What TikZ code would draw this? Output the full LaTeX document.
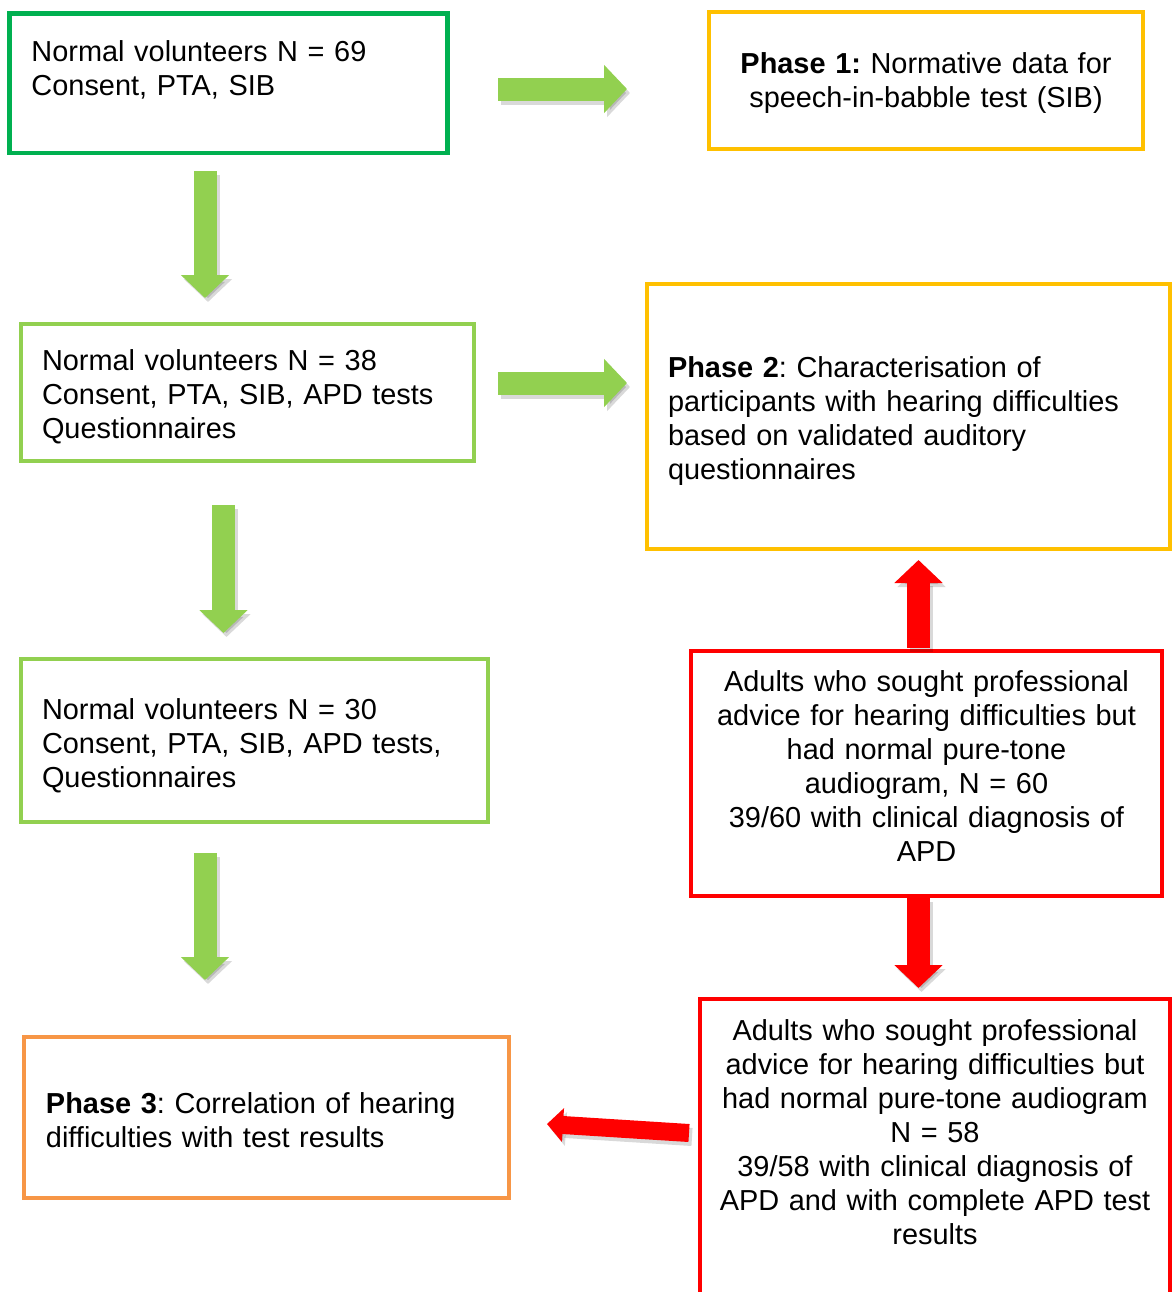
\documentclass[tikz,border=0pt]{standalone}
\usepackage{fontspec}
\setmainfont{Liberation Sans}
\usetikzlibrary{arrows.meta}
\frenchspacing
\definecolor{dkgreen}{HTML}{00B050}
\definecolor{ltgreen}{HTML}{92D050}
\definecolor{phyellow}{HTML}{FFC000}
\definecolor{phorange}{HTML}{F79646}
\definecolor{apdred}{HTML}{FF0000}
\tikzset{
  box/.style={draw, line width=2.2pt, outer sep=0pt, inner ysep=0pt, inner xsep=#1,
    anchor=north west, font=\fontsize{14.45}{17}\selectfont},
  box/.default=11pt,
  garrow/.style={draw=ltgreen, line width=11.5pt, -{Triangle[width=23.5pt,length=11.5pt]}},
  rarrow/.style={draw=apdred, line width=11.5pt, -{Triangle[width=23.5pt,length=11.5pt]}},
  rthin/.style={draw=apdred, line width=9pt, -{Triangle[width=16.5pt,length=8pt]}},
  shadowed/.style={draw=black, opacity=0.15, transform canvas={shift={(1.5pt,-2pt)}}}
}
\begin{document}
\begin{tikzpicture}[x=0.5pt, y=-0.5pt]
\clip (0,0) rectangle (1174,1292);
\fill[white] (0,0) rectangle (1174,1292);
% left column: volunteers
\node[box, draw=dkgreen, align=left, text width=197pt, text height=23.75pt, text depth=46pt]
  (v69) at (9.5,13.5) {Normal volunteers N = 69\\Consent, PTA, SIB};
\node[box=10.5pt, draw=ltgreen, align=left, text width=205.5pt, text height=23pt, text depth=45.5pt]
  (v38) at (21,324) {Normal volunteers N = 38\\Consent, PTA, SIB, APD tests\\Questionnaires};
\node[box=10.5pt, draw=ltgreen, align=left, text width=212.5pt, text height=30pt, text depth=51.5pt]
  (v30) at (21,659) {Normal volunteers N = 30\\Consent, PTA, SIB, APD tests,\\Questionnaires};
\node[box, draw=phorange, align=left, text width=220.5pt, text height=38pt, text depth=42.5pt]
  (ph3) at (24,1037) {\textbf{Phase 3}: Correlation of hearing\\difficulties with test results};
% right column: phases and patients
\node[box, draw=phyellow, align=center, text width=195pt, text height=30.5pt, text depth=38pt]
  (ph1) at (709,12) {\textbf{Phase 1:} Normative data for\\speech-in-babble test (SIB)};
\node[box=10.5pt, draw=phyellow, align=left, text width=240.5pt, text height=46.5pt, text depth=86pt]
  (ph2) at (647,284) {\textbf{Phase 2}: Characterisation of\\participants with hearing difficulties\\based on validated auditory\\questionnaires};
\node[box=5pt, draw=apdred, align=center, text width=225.5pt, text height=20pt, text depth=102.5pt]
  (p60) at (691,651) {Adults who sought professional\\advice for hearing difficulties but\\had normal pure-tone\\audiogram, N = 60\\39/60 with clinical diagnosis of\\APD};
\node[box=5pt, draw=apdred, align=center, text width=225pt, text height=20.5pt, text depth=140pt]
  (p58) at (700,999) {Adults who sought professional\\advice for hearing difficulties but\\had normal pure-tone audiogram\\N = 58\\39/58 with clinical diagnosis of\\APD and with complete APD test\\results};
% arrow ends
\coordinate (g1s) at (498,89);    \coordinate (g1e) at (627,89);
\coordinate (g2s) at (498,383);   \coordinate (g2e) at (627,383);
\coordinate (g3s) at (205,171);   \coordinate (g3e) at (205,298);
\coordinate (g4s) at (223.5,505); \coordinate (g4e) at (223.5,633);
\coordinate (g5s) at (205,853);   \coordinate (g5e) at (205,980);
\coordinate (r1s) at (918.5,648); \coordinate (r1e) at (918.5,560);
\coordinate (r2s) at (918.5,898); \coordinate (r2e) at (918.5,988);
\coordinate (r3s) at (689,1133);  \coordinate (r3e) at (547,1124);
% green arrows
\foreach \s/\e in {g1s/g1e, g2s/g2e, g3s/g3e, g4s/g4e, g5s/g5e} {
  \draw[garrow, shadowed] (\s) -- (\e);
  \draw[garrow] (\s) -- (\e);
}
% red arrows
\foreach \s/\e in {r1s/r1e, r2s/r2e} {
  \draw[rarrow, shadowed] (\s) -- (\e);
  \draw[rarrow] (\s) -- (\e);
}
\draw[rthin, shadowed] (r3s) -- (r3e);
\draw[rthin] (r3s) -- (r3e);
\end{tikzpicture}
\end{document}
